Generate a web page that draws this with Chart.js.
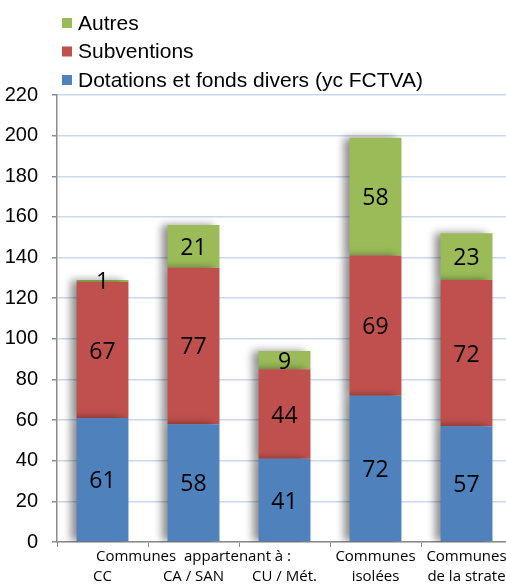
<!DOCTYPE html>
<html>
<head>
<meta charset="utf-8">
<script src="https://cdn.jsdelivr.net/npm/chart.js@4"></script>
<style>
  html, body { margin: 0; padding: 0; background: #fff; overflow: hidden; }
  #wrap { width: 520px; height: 584px; }
</style>
</head>
<body>
<div id="wrap"><canvas id="chart"></canvas></div>
<script>
const categories = [
  ['', 'CC'],
  ['Communes  appartenant à :', 'CA / SAN'],
  ['', 'CU / Mét.'],
  ['Communes', 'isolées'],
  ['Communes', 'de la strate']
];
const dotations = [61, 58, 41, 72, 57];
const subventions = [67, 77, 44, 69, 72];
const autres = [1, 21, 9, 58, 23];
const yTicks = [0, 20, 40, 60, 80, 100, 120, 140, 160, 180, 200, 220];

// bar shadow, falls to the left like the original
const shadowPlugin = {
  id: 'barShadow',
  beforeDatasetsDraw(chart) {
    const ctx = chart.ctx;
    ctx.save();
    ctx.shadowColor = 'rgba(0,0,0,0.45)';
    ctx.shadowBlur = 8;
    ctx.shadowOffsetX = -6;
    ctx.shadowOffsetY = 0;
  },
  afterDatasetsDraw(chart) {
    chart.ctx.restore();
  }
};

// value labels centred in each segment
const valueLabels = {
  id: 'valueLabels',
  afterDatasetsDraw(chart) {
    const ctx = chart.ctx;
    ctx.save();
    ctx.font = '23px "Open Sans", sans-serif';
    ctx.fillStyle = '#000';
    ctx.textAlign = 'center';
    ctx.textBaseline = 'middle';
    chart.data.datasets.forEach((ds, i) => {
      chart.getDatasetMeta(i).data.forEach((bar, j) => {
        const mid = (bar.y + bar.base) / 2;
        ctx.fillText(String(ds.data[j]), bar.x, mid + 2);
      });
    });
    ctx.restore();
  }
};

// stacked legend at the top left, top series first
const stackLegend = {
  id: 'stackLegend',
  afterDraw(chart) {
    const ctx = chart.ctx;
    const items = chart.data.datasets.slice().reverse();
    ctx.save();
    ctx.font = '21px "Liberation Sans", Arial, sans-serif';
    ctx.textBaseline = 'middle';
    ctx.textAlign = 'left';
    items.forEach((ds, i) => {
      const y = 23 + i * 28.5;
      ctx.fillStyle = ds.backgroundColor;
      ctx.fillRect(62, y - 5, 10, 10);
      ctx.fillStyle = '#000';
      ctx.fillText(ds.label, 78, y + 1);
    });
    ctx.restore();
  }
};

new Chart(document.getElementById('chart'), {
  type: 'bar',
  data: {
    labels: categories,
    datasets: [
      { label: 'Dotations et fonds divers (yc FCTVA)', data: dotations, backgroundColor: '#4f81bd' },
      { label: 'Subventions', data: subventions, backgroundColor: '#c0504d' },
      { label: 'Autres', data: autres, backgroundColor: '#9bbb59' }
    ]
  },
  options: {
    responsive: true,
    maintainAspectRatio: false,
    animation: false,
    layout: { padding: { left: 0, top: 95, right: 8, bottom: 0 } },
    datasets: { bar: { barPercentage: 0.57, categoryPercentage: 1 } },
    scales: {
      x: {
        stacked: true,
        afterFit: (scale) => { scale.height = 42; },
        grid: { drawOnChartArea: false, drawTicks: true, tickLength: 5, color: '#8c8c8c' },
        border: { color: '#8c8c8c', width: 1.5 },
        ticks: {
          color: '#000',
          padding: 0,
          maxRotation: 0,
          autoSkip: false,
          font: { family: '"Open Sans", sans-serif', size: 15, lineHeight: 1.3 }
        }
      },
      y: {
        stacked: true,
        min: 0,
        max: 220,
        afterFit: (scale) => { scale.width = 57; },
        afterBuildTicks: (scale) => { scale.ticks = yTicks.map(v => ({ value: v })); },
        grid: { color: '#c9d8ec', lineWidth: 1.5, tickLength: 5, tickColor: '#8c8c8c' },
        border: { color: '#8c8c8c', width: 1.5 },
        ticks: {
          color: '#000',
          padding: 14,
          font: { family: '"Liberation Sans", Arial, sans-serif', size: 20 }
        }
      }
    },
    plugins: {
      legend: { display: false },
      tooltip: { enabled: false }
    }
  },
  plugins: [shadowPlugin, valueLabels, stackLegend]
});
</script>
</body>
</html>
